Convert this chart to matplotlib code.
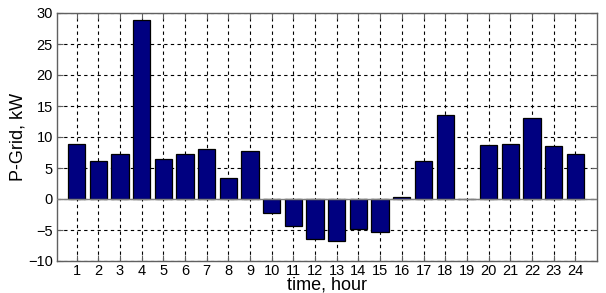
import numpy as np
import matplotlib.pyplot as plt

plt.rcParams['font.family'] = ['Liberation Sans', 'DejaVu Sans']

hours = np.arange(1, 25)
p_grid = [8.8, 6.1, 7.2, 28.9, 6.4, 7.2, 8.1, 3.4, 7.8, -2.2, -4.4, -6.5,
          -6.8, -4.9, -5.4, 0.3, 6.2, 13.6, 0.0, 8.7, 8.8, 13.0, 8.5, 7.2]

fig = plt.figure(figsize=(6.06, 2.93), dpi=100)
ax = fig.add_axes([57 / 606, 1 - 261 / 293, 540 / 606, 248 / 293])

ax.bar(hours, p_grid, width=0.8, color='#000080', edgecolor='black',
       linewidth=0.9, zorder=3)
ax.axhline(0, color='#808080', linewidth=1.0, zorder=4)

ax.set_xlim(0.1, 25)
ax.set_ylim(-10, 30)
ax.set_xticks(hours)
ax.set_yticks(np.arange(-10, 31, 5))
ax.grid(True, color='black', linestyle=(0, (3, 3)), linewidth=0.8, zorder=0)
ax.tick_params(direction='in', top=True, right=True, labelsize=10.5,
               length=4, color='#606060', pad=3)
ax.tick_params(axis='x', pad=2)
for s in ax.spines.values():
    s.set_color('#606060')
    s.set_linewidth(1.0)

ax.set_xlabel('time, hour', fontsize=13, labelpad=-1)
ax.set_ylabel('P-Grid, kW', fontsize=13, labelpad=1)

fig.savefig('out.png', dpi=100)
